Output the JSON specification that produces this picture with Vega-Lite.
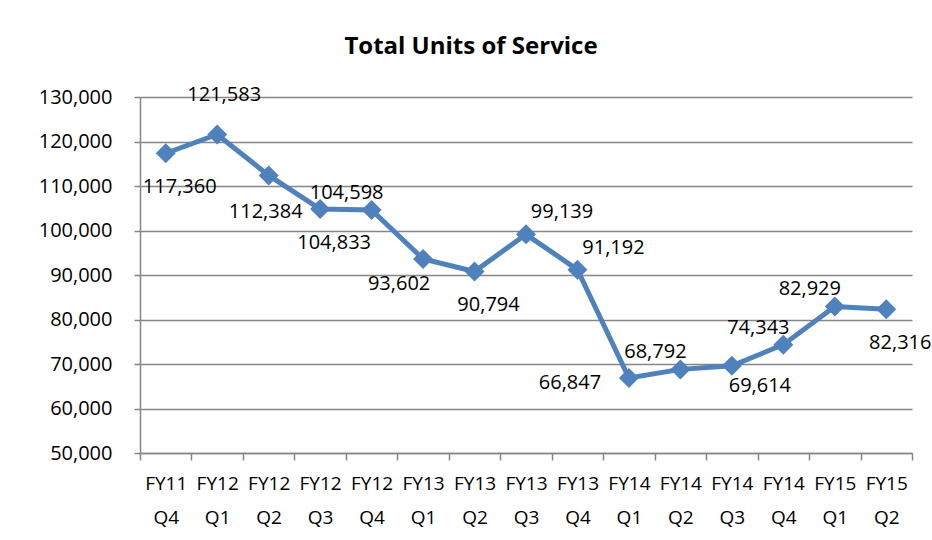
{
  "$schema": "https://vega.github.io/schema/vega-lite/v6.json",
  "width": 772,
  "height": 356,
  "autosize": {"type": "none"},
  "padding": {"left": 140, "top": 97, "right": 20, "bottom": 87},
  "background": "white",
  "config": {
    "view": {"stroke": null},
    "font": "Open Sans"
  },
  "title": {
    "text": "Total Units of Service",
    "fontSize": 24,
    "fontWeight": "bold",
    "font": "Open Sans",
    "color": "black",
    "anchor": "middle",
    "dx": -55,
    "offset": 26
  },
  "data": {
    "values": [
      {"period": "FY11 Q4", "units": 117360, "labelPos": "below-right"},
      {"period": "FY12 Q1", "units": 121583, "labelPos": "above"},
      {"period": "FY12 Q2", "units": 112384, "labelPos": "below"},
      {"period": "FY12 Q3", "units": 104833, "labelPos": "below-right"},
      {"period": "FY12 Q4", "units": 104598, "labelPos": "above-left"},
      {"period": "FY13 Q1", "units": 93602, "labelPos": "below-left"},
      {"period": "FY13 Q2", "units": 90794, "labelPos": "below-right"},
      {"period": "FY13 Q3", "units": 99139, "labelPos": "above-right"},
      {"period": "FY13 Q4", "units": 91192, "labelPos": "above-right"},
      {"period": "FY14 Q1", "units": 66847, "labelPos": "left"},
      {"period": "FY14 Q2", "units": 68792, "labelPos": "above-left"},
      {"period": "FY14 Q3", "units": 69614, "labelPos": "right-below"},
      {"period": "FY14 Q4", "units": 74343, "labelPos": "above-left"},
      {"period": "FY15 Q1", "units": 82929, "labelPos": "above-left"},
      {"period": "FY15 Q2", "units": 82316, "labelPos": "below-right"}
    ]
  },
  "encoding": {
    "x": {
      "field": "period",
      "type": "nominal",
      "sort": null,
      "scale": {"type": "band", "paddingInner": 0, "paddingOuter": 0},
      "axis": {
        "title": null,
        "labelAngle": 0,
        "labelExpr": "split(datum.label, ' ')",
        "labelFontSize": 19,
        "labelColor": "black",
        "labelLineHeight": 34,
        "labelPadding": 14,
        "labelBaseline": "top",
        "tickBand": "extent",
        "tickSize": 7,
        "tickColor": "#868686",
        "tickWidth": 1.5,
        "domainColor": "#868686",
        "domainWidth": 1.5,
        "grid": false
      }
    },
    "y": {
      "field": "units",
      "type": "quantitative",
      "scale": {"domain": [50000, 130000], "nice": false, "zero": false},
      "axis": {
        "title": null,
        "values": [50000, 60000, 70000, 80000, 90000, 100000, 110000, 120000, 130000],
        "format": ",.0f",
        "labelFontSize": 20,
        "labelColor": "black",
        "labelPadding": 22,
        "tickSize": 6,
        "tickColor": "#868686",
        "tickWidth": 1.5,
        "domainColor": "#868686",
        "domainWidth": 1.5,
        "grid": true,
        "gridColor": "#868686",
        "gridWidth": 1.5
      }
    }
  },
  "layer": [
    {"mark": {"type": "line", "color": "#4F81BD", "strokeWidth": 5}},
    {"mark": {"type": "point", "shape": "diamond", "filled": true, "color": "#4F81BD", "size": 400, "opacity": 1}},
    {
      "transform": [{"filter": "datum.labelPos == 'below-right'"}],
      "mark": {"type": "text", "fontSize": 20, "color": "black", "align": "center", "baseline": "middle", "dx": 14, "dy": 34},
      "encoding": {"text": {"field": "units", "type": "quantitative", "format": ","}}
    },
    {
      "transform": [{"filter": "datum.labelPos == 'right-below'"}],
      "mark": {"type": "text", "fontSize": 20, "color": "black", "align": "center", "baseline": "middle", "dx": 28, "dy": 20},
      "encoding": {"text": {"field": "units", "type": "quantitative", "format": ","}}
    },
    {
      "transform": [{"filter": "datum.labelPos == 'above'"}],
      "mark": {"type": "text", "fontSize": 20, "color": "black", "align": "center", "baseline": "middle", "dx": 7, "dy": -39},
      "encoding": {"text": {"field": "units", "type": "quantitative", "format": ","}}
    },
    {
      "transform": [{"filter": "datum.labelPos == 'below'"}],
      "mark": {"type": "text", "fontSize": 20, "color": "black", "align": "center", "baseline": "middle", "dx": -3, "dy": 37},
      "encoding": {"text": {"field": "units", "type": "quantitative", "format": ","}}
    },
    {
      "transform": [{"filter": "datum.labelPos == 'above-left'"}],
      "mark": {"type": "text", "fontSize": 20, "color": "black", "align": "center", "baseline": "middle", "dx": -25, "dy": -17},
      "encoding": {"text": {"field": "units", "type": "quantitative", "format": ","}}
    },
    {
      "transform": [{"filter": "datum.labelPos == 'below-left'"}],
      "mark": {"type": "text", "fontSize": 20, "color": "black", "align": "center", "baseline": "middle", "dx": -24, "dy": 25},
      "encoding": {"text": {"field": "units", "type": "quantitative", "format": ","}}
    },
    {
      "transform": [{"filter": "datum.labelPos == 'above-right'"}],
      "mark": {"type": "text", "fontSize": 20, "color": "black", "align": "center", "baseline": "middle", "dx": 36, "dy": -22},
      "encoding": {"text": {"field": "units", "type": "quantitative", "format": ","}}
    },
    {
      "transform": [{"filter": "datum.labelPos == 'left'"}],
      "mark": {"type": "text", "fontSize": 20, "color": "black", "align": "center", "baseline": "middle", "dx": -59, "dy": 5},
      "encoding": {"text": {"field": "units", "type": "quantitative", "format": ","}}
    }
  ]
}
